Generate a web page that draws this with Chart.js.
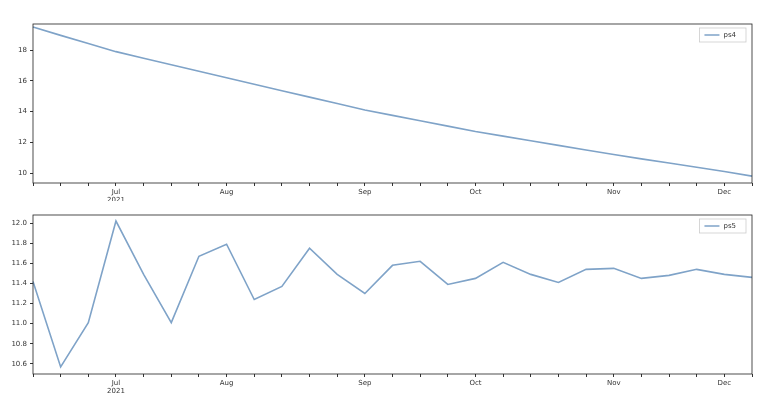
<!DOCTYPE html>
<html><head><script src="https://cdn.jsdelivr.net/npm/chart.js@4"></script>
<style>body{margin:0;background:#fff}div{position:absolute;left:0;width:768px;height:201px}</style></head>
<body><div id="d1" style="top:0"><canvas id="c1"></canvas></div><div id="d2" style="top:201px"><canvas id="c2"></canvas></div>
<script>
const weeks = ['06-07','06-14','06-21','06-28','07-05','07-12','07-19','07-26','08-02','08-09','08-16','08-23','08-30','09-06','09-13','09-20','09-27','10-04','10-11','10-18','10-25','11-01','11-08','11-15','11-22','11-29','12-06'];
const monthTicks = {3:['Jul','2021'],7:['Aug'],12:['Sep'],16:['Oct'],21:['Nov'],25:['Dec']};
const ps4 = [19.5,18.96,18.43,17.9,17.47,17.05,16.62,16.2,15.78,15.36,14.94,14.52,14.1,13.75,13.4,13.05,12.7,12.4,12.1,11.8,11.5,11.2,10.92,10.65,10.37,10.1,9.8];
const ps5 = [11.42,10.57,11.01,12.02,11.49,11.01,11.67,11.79,11.24,11.37,11.75,11.49,11.30,11.58,11.62,11.39,11.45,11.61,11.49,11.41,11.54,11.55,11.45,11.48,11.54,11.49,11.46];
const frame = {id:'frame',afterDraw(c){const a=c.chartArea,x=c.ctx;x.save();x.strokeStyle='#222';x.lineWidth=0.8;x.strokeRect(a.left,a.top,a.right-a.left,a.bottom-a.top);
 const lab=c.data.datasets[0].label;x.font='7px DejaVu Sans';const w=x.measureText(lab).width;const bx=a.right-w-40,by=a.top+4;
 x.fillStyle='#fff';x.strokeStyle='#ccc';x.fillRect(bx,by,w+34,14);x.strokeRect(bx,by,w+34,14);
 x.strokeStyle='#7fa3c8';x.lineWidth=1.5;x.beginPath();x.moveTo(bx+5,by+7);x.lineTo(bx+20,by+7);x.stroke();
 x.fillStyle='#333';x.textBaseline='middle';x.fillText(lab,bx+24,by+7.5);x.restore();}};
function mk(id,label,data,min,max,step,padTop,xh){
 new Chart(document.getElementById(id),{type:'line',data:{labels:weeks,datasets:[{label,data,borderColor:'#7fa3c8',borderWidth:1.6,pointRadius:0,tension:0}]},
 options:{responsive:true,maintainAspectRatio:false,animation:false,layout:{padding:{top:padTop,right:16,left:0,bottom:0}},
 plugins:{legend:{display:false},tooltip:{enabled:false}},
 scales:{x:{offset:false,grid:{display:true,drawOnChartArea:false,drawTicks:true,tickLength:3,color:'#333'},border:{display:false},afterFit:s=>{s.height=xh},
  ticks:{autoSkip:false,maxRotation:0,padding:2,font:{size:7,family:'DejaVu Sans'},color:'#333',callback:(v,i)=>monthTicks[i]||''}},
 y:{min,max,grid:{display:true,drawOnChartArea:false,tickLength:3,color:'#333'},border:{display:false},afterFit:s=>{s.width=33},
  ticks:{stepSize:step,padding:3,font:{size:7,family:'DejaVu Sans'},color:'#333',callback:v=>step<1?v.toFixed(1):String(Math.round(v))},
  afterBuildTicks:s=>{const t=[];for(let v=Math.ceil(min/step)*step;v<=max+1e-9;v+=step)t.push({value:+v.toFixed(3)});s.ticks=t;}}}},
 plugins:[frame]});}
mk('c1','ps4',ps4,9.35,19.7,2,24,18);
mk('c2','ps5',ps5,10.5,12.08,0.2,14,28);
</script></body></html>
